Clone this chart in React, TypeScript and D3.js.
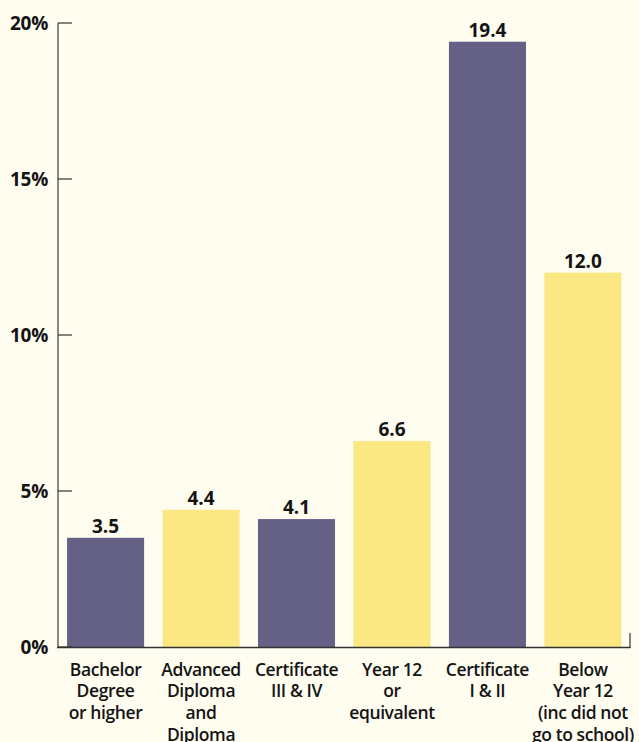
import React from 'react';
import * as d3 from 'd3';

const categories = [
  ['Bachelor', 'Degree', 'or higher'],
  ['Advanced', 'Diploma', 'and', 'Diploma'],
  ['Certificate', 'III & IV'],
  ['Year 12', 'or', 'equivalent'],
  ['Certificate', 'I & II'],
  ['Below', 'Year 12', '(inc did not', 'go to school)'],
];
const values = [3.5, 4.4, 4.1, 6.6, 19.4, 12.0];
const barColors = ['#656086', '#fce883', '#656086', '#fce883', '#656086', '#fce883'];
const yTicks = [0, 5, 10, 15, 20];

const W = 639;
const H = 742;
const FONT = "'Open Sans', 'Noto Sans', sans-serif";

const App = () => {
  const x = d3
    .scaleBand<number>()
    .domain(values.map((_, i) => i))
    .range([58, 630.5])
    .paddingInner(0.193)
    .paddingOuter(0.095);
  const y = d3.scaleLinear().domain([0, 20]).range([647, 23]);

  return (
    <svg width={W} height={H} style={{ position: 'absolute', left: 0, top: 0, background: '#fffcf0' }}>
      <rect x={0} y={0} width={W} height={H} fill="#fffcf0" />
      {values.map((v, i) => (
        <g key={i}>
          <rect x={x(i)} y={y(v)} width={x.bandwidth()} height={y(0) - y(v)} fill={barColors[i]} />
          <text
            x={(x(i) as number) + x.bandwidth() / 2}
            y={y(v) - 5}
            textAnchor="middle"
            fontFamily={FONT}
            fontWeight={700}
            fontSize={19}
            fill="#141414"
          >
            {v.toFixed(1)}
          </text>
          {categories[i].map((line, j) => (
            <text
              key={j}
              x={(x(i) as number) + x.bandwidth() / 2}
              y={675.5 + j * 21.7}
              textAnchor="middle"
              fontFamily={FONT}
              fontWeight={600}
              fontSize={17.5}
              letterSpacing={-0.4}
              fill="#141414"
            >
              {line}
            </text>
          ))}
        </g>
      ))}
      <line x1={58} x2={58} y1={23} y2={648} stroke="#6b6b6b" strokeWidth={1.6} />
      <line x1={57} x2={630.5} y1={647.5} y2={647.5} stroke="#333" strokeWidth={1.6} />
      <line x1={630} x2={630} y1={633} y2={648} stroke="#333" strokeWidth={1.2} />
      {yTicks.map((t) => (
        <g key={t}>
          <line x1={58} x2={72} y1={y(t)} y2={y(t)} stroke="#333" strokeWidth={1.2} />
          <text
            x={48}
            y={y(t) + 6.5}
            textAnchor="end"
            fontFamily={FONT}
            fontWeight={700}
            fontSize={19}
            letterSpacing={-0.3}
            fill="#141414"
          >
            {t}%
          </text>
        </g>
      ))}
    </svg>
  );
};

export default App;
